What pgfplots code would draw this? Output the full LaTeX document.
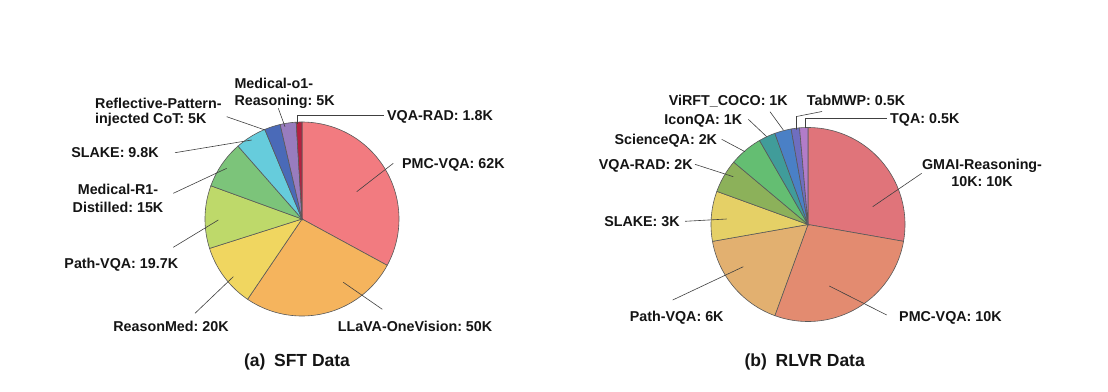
\documentclass[border=0pt]{standalone}
\usepackage{pgfplots}
\pgfplotsset{compat=1.18}
\usepackage{fontspec}
\setmainfont{Liberation Sans}
\frenchspacing
\definecolor{sa}{HTML}{F27B80}
\definecolor{sb}{HTML}{F5B45D}
\definecolor{sc}{HTML}{F0D660}
\definecolor{sd}{HTML}{BED96A}
\definecolor{se}{HTML}{7CC47A}
\definecolor{sf}{HTML}{66CCDC}
\definecolor{sg}{HTML}{4A6AB8}
\definecolor{sh}{HTML}{987CBE}
\definecolor{si}{HTML}{B52140}
\definecolor{ra}{HTML}{E0747A}
\definecolor{rb}{HTML}{E38B70}
\definecolor{rc}{HTML}{E2B070}
\definecolor{rd}{HTML}{E5D066}
\definecolor{re}{HTML}{8CB15A}
\definecolor{rf}{HTML}{64BE72}
\definecolor{rg}{HTML}{409C9A}
\definecolor{rh}{HTML}{4A80C6}
\definecolor{ri}{HTML}{6E6EC0}
\definecolor{rj}{HTML}{B27CC8}
% pie: #1 cx, #2 cy, #3 r, #4 list value/color (clockwise from top)
\newcommand{\drawpie}[4]{%
  \gdef\pietotal{0}%
  \foreach \v/\c in {#4} {\pgfmathsetmacro\t{\pietotal+\v}\xdef\pietotal{\t}}%
  \gdef\piecum{0}%
  \foreach \v/\c in {#4} {%
    \pgfmathsetmacro\aone{90-(\piecum+\v)/\pietotal*360}%
    \pgfmathsetmacro\atwo{90-\piecum/\pietotal*360}%
    \pgfmathsetmacro\t{\piecum+\v}\xdef\piecum{\t}%
    \edef\temp{\noexpand\addplot[draw=black!65, line width=0.6pt, fill=\c, domain=\aone:\atwo, samples=60] ({#1+#3*cos(x)},{#2-#3*sin(x)}) -- (axis cs:#1,#2) -- cycle;}%
    \temp
  }%
}
\tikzset{labtxt/.style={font=\fontsize{14.3}{16}\selectfont\bfseries, text=black!92, inner sep=0pt},
  captxt/.style={font=\fontsize{17.5}{20}\selectfont\bfseries, text=black!92, inner sep=0pt},
  leadln/.style={draw=black!75, line width=0.6pt}}
\begin{document}
\begin{tikzpicture}
\useasboundingbox (0,0) rectangle (1108pt,391pt);
\begin{axis}[at={(0,0)}, anchor=south west, scale only axis, width=1108pt, height=391pt,
  xmin=0, xmax=1108, ymin=0, ymax=391, y dir=reverse, hide axis, clip=false]
% SFT data (K)
\drawpie{302}{219}{97}{62/sa, 50/sb, 20/sc, 19.7/sd, 15/se, 9.8/sf, 5/sg, 5/sh, 1.8/si}
% RLVR data (K)
\drawpie{808}{224.5}{97}{10/ra, 10/rb, 6/rc, 3/rd, 2/re, 2/rf, 1/rg, 1/rh, 0.5/ri, 0.5/rj}
% leaders SFT
\draw[leadln] (axis cs:297.7,123.5) -- (axis cs:297.7,115) -- (axis cs:384,115);
\draw[leadln] (axis cs:356.7,191.7) -- (axis cs:393.3,163.3);
\draw[leadln] (axis cs:343.3,282.3) -- (axis cs:382.3,309.3);
\draw[leadln] (axis cs:233.3,276.7) -- (axis cs:195,313.3);
\draw[leadln] (axis cs:218.3,220) -- (axis cs:173.3,247.3);
\draw[leadln] (axis cs:226.7,168.3) -- (axis cs:173.3,193.3);
\draw[leadln] (axis cs:251.7,140) -- (axis cs:175,152.7);
\draw[leadln] (axis cs:265,130) -- (axis cs:226.7,116.7);
\draw[leadln] (axis cs:285,126.7) -- (axis cs:278.3,108.3);
% labels SFT
\node[labtxt, anchor=base west] at (axis cs:387,120) {VQA-RAD: 1.8K};
\node[labtxt, anchor=base west] at (axis cs:402,168.5) {PMC-VQA: 62K};
\node[labtxt, anchor=base] at (axis cs:415,331) {LLaVA-OneVision: 50K};
\node[labtxt, anchor=base] at (axis cs:171,331) {ReasonMed: 20K};
\node[labtxt, anchor=base] at (axis cs:121.3,268.3) {Path-VQA: 19.7K};
\node[labtxt, anchor=base] at (axis cs:118,194.5) {Medical-R1-};
\node[labtxt, anchor=base] at (axis cs:118,212) {Distilled: 15K};
\node[labtxt, anchor=base] at (axis cs:115,157.7) {SLAKE: 9.8K};
\node[labtxt, anchor=base west] at (axis cs:95,108.5) {Reflective-Pattern-};
\node[labtxt, anchor=base west] at (axis cs:95,123.5) {injected CoT: 5K};
\node[labtxt, anchor=base west] at (axis cs:234.3,88.3) {Medical-o1-};
\node[labtxt, anchor=base west] at (axis cs:234.3,105) {Reasoning: 5K};
% leaders RLVR
\draw[leadln] (axis cs:805,128.3) -- (axis cs:805,118.3) -- (axis cs:887,118.3);
\draw[leadln] (axis cs:796.5,129.5) -- (axis cs:796.5,116.5) -- (axis cs:822,111.5);
\draw[leadln] (axis cs:783.3,130) -- (axis cs:770,111.7);
\draw[leadln] (axis cs:766.7,136.7) -- (axis cs:748.3,119.3);
\draw[leadln] (axis cs:745,151.7) -- (axis cs:721.7,139.3);
\draw[leadln] (axis cs:733.3,176.7) -- (axis cs:695,164.3);
\draw[leadln] (axis cs:726.7,219) -- (axis cs:685,221.3);
\draw[leadln] (axis cs:743.3,266.7) -- (axis cs:672.7,300);
\draw[leadln] (axis cs:829.3,286) -- (axis cs:886.7,315);
\draw[leadln] (axis cs:872.7,206.7) -- (axis cs:921.7,173.3);
% labels RLVR
\node[labtxt, anchor=base west] at (axis cs:890,123.5) {TQA: 0.5K};
\node[labtxt, anchor=base west] at (axis cs:806.7,105) {TabMWP: 0.5K};
\node[labtxt, anchor=base] at (axis cs:728.3,105) {ViRFT\_COCO: 1K};
\node[labtxt, anchor=base] at (axis cs:703.3,124.3) {IconQA: 1K};
\node[labtxt, anchor=base] at (axis cs:665.8,144.3) {ScienceQA: 2K};
\node[labtxt, anchor=base] at (axis cs:645.8,169.3) {VQA-RAD: 2K};
\node[labtxt, anchor=base] at (axis cs:642,226.3) {SLAKE: 3K};
\node[labtxt, anchor=base] at (axis cs:676.7,321.7) {Path-VQA: 6K};
\node[labtxt, anchor=base west] at (axis cs:899,321.7) {PMC-VQA: 10K};
\node[labtxt, anchor=base] at (axis cs:982,169) {GMAI-Reasoning-};
\node[labtxt, anchor=base] at (axis cs:982,186.7) {10K: 10K};
% captions
\node[captxt, anchor=base] at (axis cs:297,366.3) {(a)\hspace{0.5em}SFT Data};
\node[captxt, anchor=base] at (axis cs:804.7,366.3) {(b)\hspace{0.5em}RLVR Data};
\end{axis}
\end{tikzpicture}
\end{document}
